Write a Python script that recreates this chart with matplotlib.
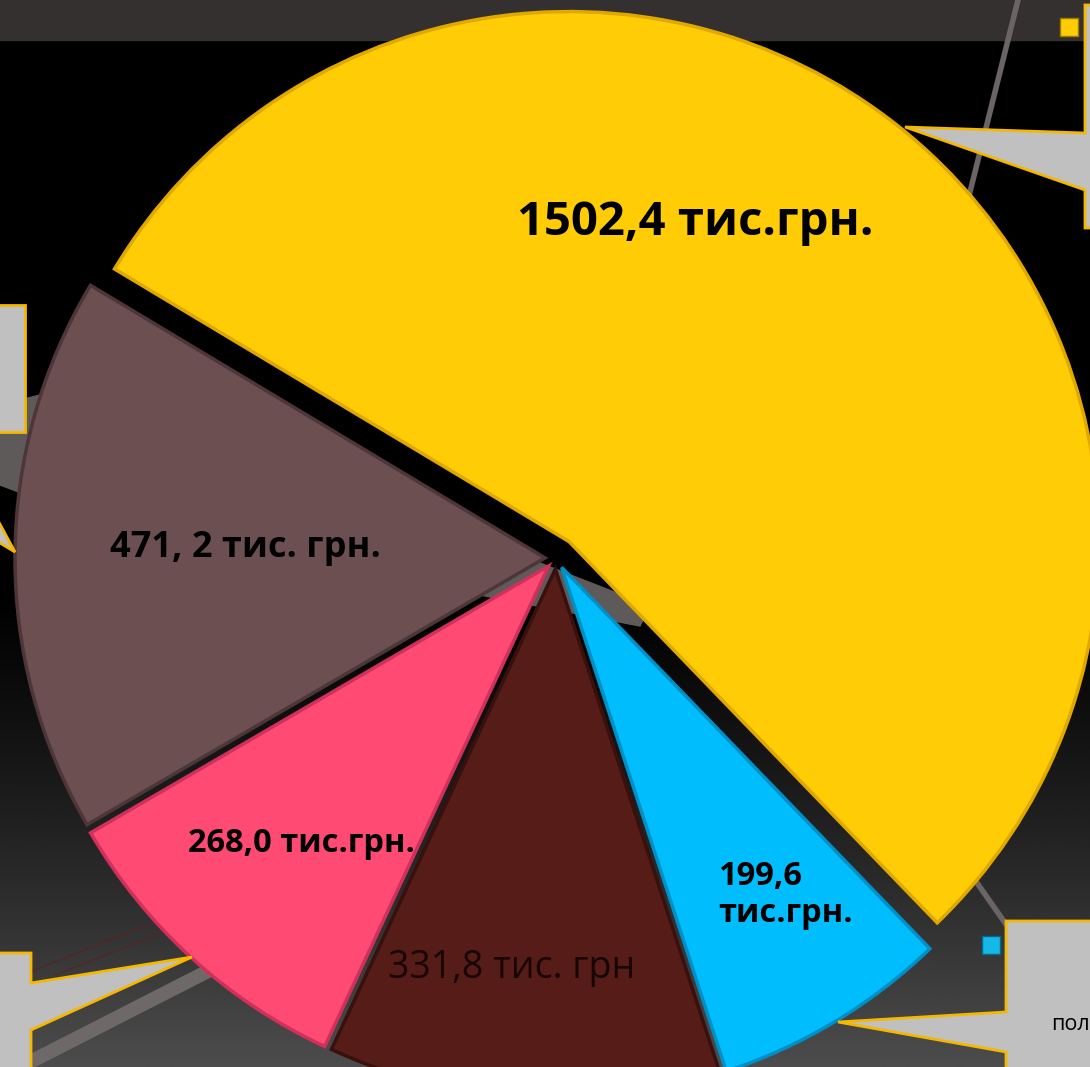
import numpy as np
import matplotlib.pyplot as plt
from matplotlib.patches import Polygon, Rectangle

W, H = 1090, 1067

values = [1502.4, 471.2, 268.0, 331.8, 199.6]
labels = ["1502,4 тис.грн.", "471, 2 тис. грн.", "268,0 тис.грн.", "331,8 тис. грн", "199,6\nтис.грн."]
colors = ["#FFCC05", "#6B4F51", "#FF4A74", "#551C18", "#00BEFD"]
edges = ["#E0A800", "#4E3638", "#D0305A", "#3A100D", "#0090C8"]
# offsets in data units (pixels) - matplotlib does not scale explode by radius
explode = [21, 11, 11, 11, 11]


def py(y):
    # pixel row -> data y
    return H - y


fig = plt.figure(figsize=(W / 100, H / 100), dpi=100)
ax = fig.add_axes([0, 0, 1, 1])
ax.set_xlim(0, W)
ax.set_ylim(0, H)
ax.axis("off")

# slide background: dark band on top, black, then grey gradient at the bottom
rows = np.linspace(0, 1, 400)
shade = np.clip((rows - 0.55) / 0.45, 0, 1) ** 1.2 * 0.30
bg = np.repeat(shade[:, None], 2, axis=1)
ax.imshow(bg, extent=[0, W, 0, H], origin="upper", cmap="gray", vmin=0, vmax=1,
          aspect="auto", zorder=0)
ax.add_patch(Rectangle((0, py(40)), W, 40, color="#353030", zorder=1))

# decorative lines / shapes behind the pie
ax.plot([1018, 968], [py(0), py(200)], color="#6A6464", lw=4, zorder=1)
ax.plot([975, 1010], [py(880), py(930)], color="#6A6464", lw=4, zorder=1)
ax.add_patch(Polygon([(0, py(405)), (40, py(395)), (300, py(480)), (540, py(563)),
                      (650, py(606)), (640, py(626)), (490, py(597)),
                      (40, py(500)), (0, py(485))], closed=True,
                     color="#5E5A5A", zorder=1))
ax.plot([30, 220], [py(1062), py(965)], color="#6E6868", lw=10, zorder=1)
ax.plot([30, 155], [py(972), py(922)], color="#5A2222", lw=0.8, zorder=1)
ax.plot([55, 165], [py(975), py(932)], color="#5A2222", lw=0.8, zorder=1)

# the pie
wedges, _ = ax.pie(values, colors=colors, explode=explode, startangle=-46,
                   counterclock=True, radius=530, center=(556, py(558)),
                   wedgeprops=dict(linewidth=2.5), frame=True)
for w, ec in zip(wedges, edges):
    w.set_edgecolor(ec)
    w.set_zorder(3)
ax.set_xlim(0, W)
ax.set_ylim(0, H)
ax.set_aspect("auto")
ax.axis("off")

# labels
font = "Open Sans"
ax.text(695, py(222), labels[0], fontsize=34, fontweight="bold", family=font,
        ha="center", va="center", color="black", zorder=5)
ax.text(110, py(548), labels[1], fontsize=26, fontweight="bold", family=font,
        ha="left", va="center", color="black", zorder=5)
ax.text(188, py(843), labels[2], fontsize=23.5, fontweight="bold", family=font,
        ha="left", va="center", color="black", zorder=5)
ax.text(388, py(968), labels[3], fontsize=27, family=font,
        ha="left", va="center", color="#1A0505", zorder=5)
ax.text(718, py(895), labels[4], fontsize=23.5, fontweight="bold", family=font,
        ha="left", va="center", color="black", linespacing=1.15, zorder=5)

# callout boxes (grey with yellow border)
box = dict(facecolor="#C0C0C0", edgecolor="#F5B800", linewidth=2, zorder=6)
ax.add_patch(Polygon([(1085, py(5)), (1095, py(5)), (1095, py(228)), (1085, py(228)),
                      (1085, py(190)), (905, py(127)), (1085, py(133))],
                     closed=True, **box))
ax.add_patch(Polygon([(-5, py(305)), (25, py(305)), (25, py(432)), (-5, py(432))],
                     closed=True, **box))
ax.add_patch(Polygon([(-5, py(515)), (15, py(552)), (-5, py(540))], closed=True, **box))
ax.add_patch(Polygon([(-5, py(953)), (31, py(953)), (31, py(983)), (192, py(957)),
                      (31, py(1030)), (31, py(1072)), (-5, py(1072))],
                     closed=True, **box))
ax.add_patch(Polygon([(1006, py(921)), (1095, py(921)), (1095, py(1072)),
                      (1006, py(1072)), (1006, py(1052)), (838, py(1022)),
                      (1006, py(1012))], closed=True, **box))
ax.text(1051, py(1025), "пол", fontsize=15.5, family=font, ha="left", va="center",
        color="black", zorder=7)

# legend markers
ax.add_patch(Rectangle((1060, py(36)), 18, 18, facecolor="#FFCC05",
                       edgecolor="#A07800", lw=1, zorder=7))
ax.add_patch(Rectangle((982, py(954)), 18, 18, facecolor="#16B8E8",
                       edgecolor="#006A90", lw=1, zorder=7))

fig.savefig("out.png", dpi=100, facecolor="black")
